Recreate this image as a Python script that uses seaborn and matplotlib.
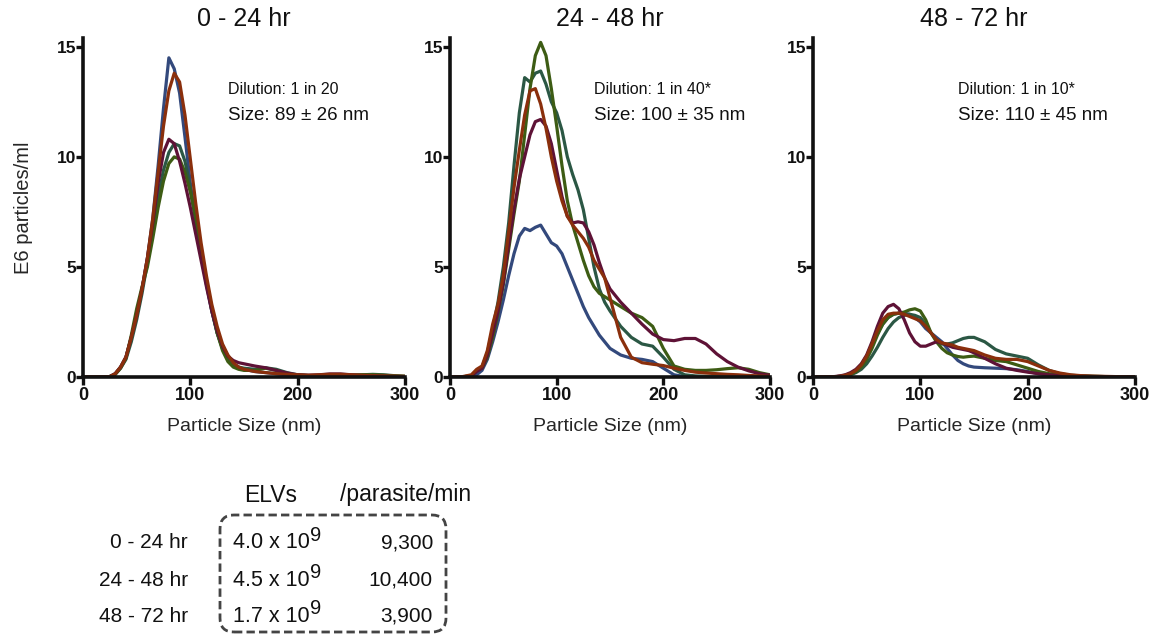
import numpy as np
import pandas as pd
import seaborn as sns
import matplotlib.pyplot as plt
from matplotlib.patches import FancyBboxPatch
from matplotlib.text import Annotation

# particle size grid (nm)
size_nm = [0, 10, 20, 25, 30, 35, 40, 45, 50, 55, 60, 65, 70, 75, 80, 85, 90, 95, 100, 105,
           110, 115, 120, 125, 130, 135, 140, 145, 150, 160, 170, 180, 190, 200, 210, 220,
           230, 240, 250, 260, 270, 280, 290, 300]

titles = ["0 - 24 hr", "24 - 48 hr", "48 - 72 hr"]
dilutions = ["Dilution: 1 in 20", "Dilution: 1 in 40*", "Dilution: 1 in 10*"]
sizes = ["Size: 89 \u00b1 26 nm", "Size: 100 \u00b1 35 nm", "Size: 110 \u00b1 45 nm"]

# E6 particles/ml, 0 - 24 hr
p1_blue = [0, 0, 0, 0.02, 0.15, 0.45, 0.9, 1.8, 2.8, 4.0, 5.4, 7.2, 9.6, 12.2, 14.5, 14.0, 12.9, 10.9, 8.8, 7.0,
           5.6, 4.2, 3.0, 2.0, 1.3, 0.85, 0.6, 0.45, 0.35, 0.25, 0.2, 0.15, 0.1, 0.08, 0.06, 0.06,
           0.07, 0.06, 0.05, 0.04, 0.03, 0.02, 0.02, 0.01]
p1_teal = [0, 0, 0, 0.02, 0.12, 0.4, 0.8, 1.6, 2.6, 3.8, 5.2, 6.7, 8.2, 9.4, 10.2, 10.6, 10.5, 9.8, 8.6, 7.2,
           5.7, 4.3, 3.0, 2.0, 1.3, 0.8, 0.55, 0.45, 0.4, 0.35, 0.42, 0.35, 0.2, 0.1, 0.07, 0.06,
           0.06, 0.07, 0.08, 0.1, 0.12, 0.1, 0.06, 0.03]
p1_olive = [0, 0, 0, 0.02, 0.12, 0.4, 0.85, 1.9, 3.1, 4.1, 5.0, 6.3, 7.7, 8.9, 9.7, 10.0, 9.9, 9.3, 8.4, 7.2,
            5.8, 4.4, 3.1, 2.0, 1.2, 0.7, 0.45, 0.35, 0.3, 0.3, 0.4, 0.3, 0.15, 0.08, 0.06, 0.06,
            0.06, 0.07, 0.08, 0.1, 0.1, 0.08, 0.05, 0.03]
p1_purple = [0, 0, 0, 0.02, 0.15, 0.45, 0.9, 1.8, 2.8, 4.0, 5.4, 7.0, 8.8, 10.2, 10.8, 10.6, 9.8, 8.8, 7.7, 6.5,
             5.3, 4.1, 3.0, 2.1, 1.4, 0.95, 0.75, 0.65, 0.6, 0.5, 0.42, 0.3, 0.18, 0.1, 0.08, 0.1,
             0.14, 0.14, 0.1, 0.06, 0.04, 0.03, 0.02, 0.01]
p1_rust = [0, 0, 0, 0.02, 0.15, 0.45, 0.9, 1.8, 2.8, 4.0, 5.4, 7.2, 9.3, 11.4, 13.0, 13.8, 13.4, 11.9, 9.9, 7.9,
           6.1, 4.6, 3.3, 2.3, 1.5, 1.0, 0.65, 0.45, 0.35, 0.25, 0.2, 0.15, 0.12, 0.1, 0.08, 0.1,
           0.12, 0.12, 0.1, 0.08, 0.06, 0.05, 0.04, 0.03]

# 24 - 48 hr
p2_blue = [0, 0, 0, 0.1, 0.3, 0.8, 1.6, 2.5, 3.5, 4.6, 5.6, 6.4, 6.75, 6.65, 6.8, 6.9, 6.5, 6.1, 5.95, 5.6,
           5.0, 4.4, 3.8, 3.2, 2.7, 2.3, 1.9, 1.6, 1.3, 1.0, 0.85, 0.8, 0.7, 0.4, 0.1, 0.02,
           0, 0, 0, 0, 0, 0, 0, 0]
p2_teal = [0, 0, 0.05, 0.3, 0.45, 1.1, 2.2, 3.4, 5.0, 7.0, 9.6, 12.0, 13.6, 13.4, 13.8, 13.9, 13.3, 12.5, 12.0, 11.2,
           10.0, 9.2, 8.5, 7.6, 6.3, 5.0, 4.0, 3.4, 3.0, 2.3, 1.8, 1.5, 1.4, 0.9, 0.35, 0.1,
           0.05, 0.03, 0.02, 0.02, 0.01, 0.01, 0, 0]
p2_olive = [0, 0, 0.05, 0.3, 0.4, 0.9, 1.8, 2.9, 4.2, 5.8, 7.4, 8.9, 11.0, 13.1, 14.6, 15.2, 14.6, 13.1, 11.4, 9.6,
            8.0, 6.9, 6.1, 5.3, 4.6, 4.1, 3.8, 3.65, 3.5, 3.2, 2.9, 2.7, 2.3, 1.3, 0.5, 0.35,
            0.3, 0.3, 0.33, 0.38, 0.42, 0.35, 0.2, 0.1]
p2_purple = [0, 0, 0.05, 0.25, 0.4, 1.0, 2.0, 3.0, 4.3, 6.0, 7.6, 9.0, 10.0, 11.0, 11.6, 11.7, 11.4, 10.6, 9.4, 8.2,
             7.3, 7.0, 7.05, 7.0, 6.6, 6.0, 5.2, 4.5, 4.0, 3.4, 2.9, 2.4, 1.95, 1.7, 1.65, 1.75,
             1.75, 1.5, 1.05, 0.7, 0.45, 0.28, 0.15, 0.08]
p2_rust = [0, 0, 0.1, 0.35, 0.5, 1.2, 2.4, 3.3, 4.6, 6.6, 8.6, 10.3, 11.9, 13.0, 13.1, 12.4, 11.3, 10.0, 8.9, 8.0,
           7.3, 6.9, 6.6, 6.3, 5.9, 5.3, 4.9, 4.5, 3.6, 1.8, 0.9, 0.65, 0.58, 0.52, 0.4, 0.3,
           0.22, 0.18, 0.15, 0.12, 0.1, 0.07, 0.05, 0.03]

# 48 - 72 hr
p3_blue = [0, 0, 0.01, 0.03, 0.08, 0.15, 0.3, 0.55, 0.95, 1.5, 2.0, 2.4, 2.7, 2.85, 2.9, 2.9, 2.85, 2.7, 2.5, 2.2,
           2.0, 1.8, 1.6, 1.3, 1.0, 0.75, 0.6, 0.5, 0.45, 0.42, 0.4, 0.38, 0.33, 0.25, 0.15, 0.08,
           0.05, 0.03, 0.02, 0.01, 0.01, 0, 0, 0]
p3_teal = [0, 0, 0.01, 0.02, 0.05, 0.1, 0.2, 0.35, 0.6, 0.95, 1.35, 1.8, 2.2, 2.5, 2.7, 2.8, 2.85, 2.8, 2.7, 2.4,
           2.0, 1.7, 1.5, 1.5, 1.55, 1.65, 1.75, 1.8, 1.8, 1.6, 1.25, 1.05, 0.95, 0.85, 0.55, 0.3,
           0.15, 0.08, 0.05, 0.03, 0.02, 0.01, 0, 0]
p3_olive = [0, 0, 0.01, 0.03, 0.06, 0.12, 0.25, 0.45, 0.8, 1.3, 1.9, 2.4, 2.7, 2.85, 2.9, 2.95, 3.05, 3.1, 3.0, 2.6,
            2.0, 1.6, 1.3, 1.1, 1.0, 0.93, 0.9, 0.93, 0.95, 0.85, 0.75, 0.7, 0.55, 0.4, 0.25, 0.15,
            0.1, 0.06, 0.04, 0.03, 0.02, 0.01, 0, 0]
p3_purple = [0, 0, 0.02, 0.05, 0.1, 0.2, 0.35, 0.6, 1.0, 1.6, 2.3, 2.9, 3.2, 3.3, 3.1, 2.6, 2.0, 1.6, 1.4, 1.4,
             1.5, 1.6, 1.55, 1.45, 1.35, 1.3, 1.25, 1.2, 1.1, 0.85, 0.6, 0.4, 0.3, 0.22, 0.15, 0.1,
             0.07, 0.05, 0.03, 0.02, 0.01, 0.01, 0, 0]
p3_rust = [0, 0, 0.01, 0.03, 0.08, 0.15, 0.3, 0.55, 0.95, 1.5, 2.1, 2.6, 2.85, 2.9, 2.9, 2.85, 2.75, 2.65, 2.55, 2.3,
           2.0, 1.7, 1.55, 1.5, 1.45, 1.35, 1.3, 1.25, 1.2, 1.0, 0.85, 0.8, 0.8, 0.7, 0.5, 0.3,
           0.18, 0.1, 0.06, 0.04, 0.03, 0.02, 0.01, 0]

series_names = ["blue", "teal", "olive", "purple", "rust"]
panels = [
    [p1_blue, p1_teal, p1_olive, p1_purple, p1_rust],
    [p2_blue, p2_teal, p2_olive, p2_purple, p2_rust],
    [p3_blue, p3_teal, p3_olive, p3_purple, p3_rust],
]
palette = {"blue": "#33497c", "teal": "#2b5744", "olive": "#3d5c14",
           "purple": "#5e1236", "rust": "#8a2f0c"}

# summary table
table_rows = ["0 - 24 hr", "24 - 48 hr", "48 - 72 hr"]
elv_mantissa = ["4.0 x 10", "4.5 x 10", "1.7 x 10"]
elv_exponent = "9"
per_parasite = ["9,300", "10,400", "3,900"]

sns.set_style("ticks")
plt.rcParams["font.family"] = ["Liberation Sans", "DejaVu Sans"]
plt.rcParams["text.color"] = "#111111"

W, H = 1157, 636
fig = plt.figure(figsize=(W / 100, H / 100), dpi=100)

lefts = [83, 450, 813]
widths = [322, 320, 322]
top_px, bottom_px = 38, 377

for i in range(3):
    ax = fig.add_axes([lefts[i] / W, 1 - bottom_px / H, widths[i] / W, (bottom_px - top_px) / H])
    df = pd.DataFrame({
        "size": np.tile(size_nm, len(series_names)),
        "conc": np.concatenate(panels[i]),
        "series": np.repeat(series_names, len(size_nm)),
    })
    sns.lineplot(data=df, x="size", y="conc", hue="series", palette=palette,
                 hue_order=series_names, linewidth=2.3, legend=False, ax=ax)
    ax.set_xlim(0, 300)
    ax.set_ylim(0, 15.4)
    ax.set_xticks([0, 100, 200, 300])
    ax.set_yticks([0, 5, 10, 15])
    sns.despine(ax=ax)
    for s in ["left", "bottom"]:
        ax.spines[s].set_linewidth(2.6)
        ax.spines[s].set_color("#111111")
    ax.tick_params(axis="x", direction="out", length=6, width=2.4, labelsize=13, pad=1, colors="#111111")
    ax.tick_params(axis="y", direction="out", length=5, width=2.4, labelsize=12.5, pad=0, colors="#111111")
    for lab in ax.get_xticklabels() + ax.get_yticklabels():
        lab.set_fontweight("bold")
    ax.set_xlabel("Particle Size (nm)", fontsize=14, labelpad=10)
    ax.set_ylabel("E6 particles/ml" if i == 0 else "", fontsize=14.5, labelpad=17)
    ax.set_title(titles[i], fontsize=18, pad=9)
    ax.text(0.45, 0.848, dilutions[i], transform=ax.transAxes, fontsize=11.5, va="center")
    ax.text(0.45, 0.772, sizes[i], transform=ax.transAxes, fontsize=13.5, va="center")

# table below the first panel
fig.text(271 / W, 1 - 495 / H, "ELVs", ha="center", va="center", fontsize=16.5)
fig.text(406 / W, 1 - 495 / H, "/parasite/min", ha="center", va="center", fontsize=16.5)
row_y = [543, 580, 616]
for k in range(3):
    y = 1 - row_y[k] / H
    fig.text(188 / W, y, table_rows[k], ha="right", va="center", fontsize=15)
    t = fig.text(233 / W, y, elv_mantissa[k], ha="left", va="center", fontsize=15.5)
    fig.add_artist(Annotation(elv_exponent, xy=(1.0, 0.42), xycoords=t,
                              ha="left", va="bottom", fontsize=14.5))
    fig.text(433 / W, y, per_parasite[k], ha="right", va="center", fontsize=15)

box = FancyBboxPatch((2.20, 0.04), 2.26, 1.17, boxstyle="round,pad=0,rounding_size=0.14",
                     transform=fig.dpi_scale_trans, fill=False, edgecolor="#444444",
                     linewidth=2.0, linestyle=(0, (3, 1.5)))
fig.add_artist(box)

fig.savefig("out.png", dpi=100)
